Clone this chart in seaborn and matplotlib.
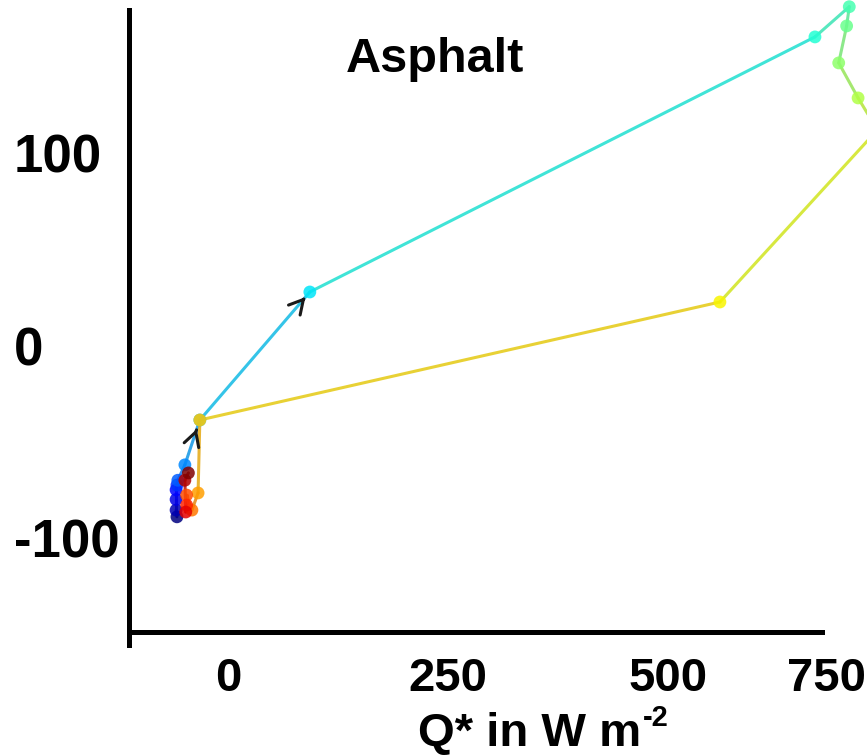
import numpy as np
import pandas as pd
import matplotlib
matplotlib.use("Agg")
import matplotlib.pyplot as plt
import matplotlib.colors as mcolors
import seaborn as sns

# ---- data ----
hours = list(range(24))
q_star = [-58, -59, -59, -59, -58, -57, -49, -32, 93, 667, 706, 703, 694, 716,
          738, 559, -32, -34, -41, -47, -47, -48, -49, -45]
dqs = [-89, -85.5, -80, -75, -72.5, -70, -62, -38.7, 27.8, 160.3, 176, 166, 146.8, 128.6,
       112, 22.6, -38.7, -76.6, -85.5, -77.7, -82.9, -86.5, -70, -66.2]
xtick_vals = [0, 250, 500, 680]
xtick_labels = ["0", "250", "500", "750"]
ytick_vals = [-100, 0, 100]
ytick_labels = ["-100", "0", "100"]
title = "Asphalt"
xlabel_main = "Q* in W m"
xlabel_sup = "-2"

sns.set_style("white")
plt.rcParams["font.family"] = ["Liberation Sans", "DejaVu Sans"]
plt.rcParams["font.weight"] = "bold"
plt.rcParams["text.color"] = "black"
plt.rcParams["xtick.color"] = "black"
plt.rcParams["ytick.color"] = "black"

cmap = plt.get_cmap("jet")
n = len(hours)
pt_colors = {h: cmap(h / (n - 1)) for h in hours}

def soften(c, w=0.78, g=0.55):
    r, gg, b, _ = c
    return (w * r + (1 - w) * g, w * gg + (1 - w) * g, w * b + (1 - w) * g)

pts = pd.DataFrame({"hour": hours, "Q": q_star, "dQs": dqs})

rows = []
for k in range(n - 1):
    rows.append({"seg": k, "Q": q_star[k], "dQs": dqs[k]})
    rows.append({"seg": k, "Q": q_star[k + 1], "dQs": dqs[k + 1]})
segs = pd.DataFrame(rows)
seg_colors = {k: soften(cmap((k + 0.5) / (n - 1))) for k in range(n - 1)}

fig = plt.figure(figsize=(8.67, 7.55), dpi=100)
ax = fig.add_axes([129 / 867, 110 / 755, 738 / 867, 635 / 755])

sns.lineplot(data=segs, x="Q", y="dQs", hue="seg", palette=seg_colors,
             estimator=None, sort=False, legend=False, lw=2.2, alpha=0.9,
             ax=ax, clip_on=False)
sns.scatterplot(data=pts, x="Q", y="dQs", hue="hour", palette=pt_colors,
                s=85, linewidth=0, alpha=0.85, legend=False, ax=ax,
                clip_on=False, zorder=3)

# direction arrows on the morning branch
for k, frac in [(6, 0.8), (7, 0.96)]:
    x0, y0 = q_star[k], dqs[k]
    x1, y1 = q_star[k + 1], dqs[k + 1]
    tip = (x0 + frac * (x1 - x0), y0 + frac * (y1 - y0))
    tail = (x0 + (frac - 0.02) * (x1 - x0), y0 + (frac - 0.02) * (y1 - y0))
    ax.annotate("", xy=tip, xytext=tail,
                arrowprops=dict(arrowstyle="->,head_length=1.0,head_width=0.55",
                                color="#1a1a1a", lw=2.2, shrinkA=0, shrinkB=0),
                zorder=4)

ax.set_xlim((129 - 228) / 0.88, (867 - 228) / 0.88)
ax.set_ylim((345.5 - 645) / 1.925, (345.5 - 10) / 1.925)

for s in ["top", "right"]:
    ax.spines[s].set_visible(False)
for s in ["left", "bottom"]:
    ax.spines[s].set_linewidth(3.6)
    ax.spines[s].set_color("black")
ax.spines["bottom"].set_position(("data", (345.5 - 632) / 1.925))
ax.spines["bottom"].set_bounds((129 - 228) / 0.88, (822 - 228) / 0.88)

ax.set_xticks(xtick_vals)
ax.set_xticklabels(xtick_labels, fontsize=34, fontweight="bold")
ax.set_yticks(ytick_vals)
ax.set_yticklabels(ytick_labels, fontsize=38, fontweight="bold")
ax.tick_params(axis="both", length=0)
ax.tick_params(axis="x", pad=18)
ax.tick_params(axis="y", pad=83)
for lab in ax.get_yticklabels():
    lab.set_horizontalalignment("left")
ax.set_xlabel("")
ax.set_ylabel("")
ax.grid(False)

fig.text(435 / 867, 1 - 72 / 755, title, ha="center", va="baseline",
         fontsize=35, fontweight="bold")
t_main = fig.text(418 / 867, 1 - 746 / 755, xlabel_main, ha="left",
                  va="baseline", fontsize=34, fontweight="bold")
fig.canvas.draw()
bb = t_main.get_window_extent()
fig.text((bb.x1 + 2) / 867, (755 - 746 + 20) / 755, xlabel_sup, ha="left",
         va="baseline", fontsize=21, fontweight="bold")

fig.savefig("out.png", dpi=100)
